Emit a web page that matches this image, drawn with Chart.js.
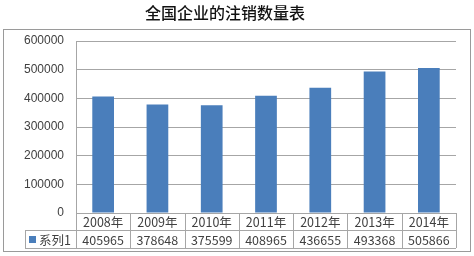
<!DOCTYPE html>
<html>
<head>
<meta charset="utf-8">
<script src="https://cdn.jsdelivr.net/npm/chart.js@4"></script>
<style>
  html, body { margin: 0; padding: 0; background: #fff; }
  #wrap { width: 474px; height: 256px; position: relative; }
</style>
</head>
<body>
<div id="wrap"><canvas id="myChart" width="474" height="256"></canvas></div>
<script>
// DATA
const titleText = "全国企业的注销数量表";
const seriesName = "系列1";
const years = ["2008年", "2009年", "2010年", "2011年", "2012年", "2013年", "2014年"];
const counts = [405965, 378648, 375599, 408965, 436655, 493368, 505866];
const yTicks = [0, 100000, 200000, 300000, 400000, 500000, 600000];

const barColor = "#4A7EBB";
const lineColor = "#a6a6a6";
const textColor = "#404040";
const cjkFont = '"Noto Sans CJK SC", "Liberation Sans", sans-serif';

// title, outer frame and the data table under the plot
const tablePlugin = {
  id: "tablePlugin",
  afterDraw(chart) {
    const c = chart.ctx;
    const area = chart.chartArea;
    const x = chart.scales.x;
    const row1 = area.bottom + 17;
    const row2 = area.bottom + 35;
    const legendLeft = 25;

    c.save();
    // frame
    c.strokeStyle = "#9a9a9a";
    c.lineWidth = 1;
    c.strokeRect(3.5, 29.5, 467, 222);

    // title
    c.fillStyle = "#111";
    c.font = "500 16px " + cjkFont;
    c.textAlign = "center";
    c.textBaseline = "middle";
    c.fillText(titleText, 225, 13);

    // table lines
    c.strokeStyle = lineColor;
    c.beginPath();
    c.moveTo(area.left, area.bottom + 0.5);
    c.lineTo(area.right, area.bottom + 0.5);
    c.moveTo(legendLeft, row1 + 0.5);
    c.lineTo(area.right, row1 + 0.5);
    c.moveTo(legendLeft, row2 + 0.5);
    c.lineTo(area.right, row2 + 0.5);
    c.moveTo(legendLeft + 0.5, row1);
    c.lineTo(legendLeft + 0.5, row2);
    const step = (area.right - area.left) / years.length;
    for (let i = 0; i <= years.length; i++) {
      const px = Math.round(area.left + step * i) + 0.5;
      c.moveTo(px, area.bottom);
      c.lineTo(px, row2);
    }
    c.stroke();

    // table text
    c.fillStyle = textColor;
    c.font = "12.5px " + cjkFont;
    years.forEach((y, i) => {
      const cx = x.getPixelForValue(i);
      c.fillText(y, cx, (area.bottom + row1) / 2 + 1);
      c.fillText(String(counts[i]), cx, (row1 + row2) / 2 + 1);
    });

    // legend key
    c.fillStyle = barColor;
    c.fillRect(29, row1 + 6, 7, 7);
    c.fillStyle = textColor;
    c.textAlign = "left";
    c.fillText(seriesName, 39, (row1 + row2) / 2 + 1);
    c.restore();
  },
};

const ctx = document.getElementById("myChart");

new Chart(ctx, {
  type: "bar",
  data: {
    labels: years,
    datasets: [
      {
        label: seriesName,
        data: counts,
        backgroundColor: barColor,
        borderWidth: 0,
        barPercentage: 0.4,
        categoryPercentage: 1,
      },
    ],
  },
  options: {
    responsive: false,
    animation: false,
    layout: { padding: { left: 0, top: 41, right: 18, bottom: 43 } },
    plugins: {
      legend: { display: false },
      tooltip: { enabled: false },
    },
    scales: {
      x: {
        display: false,
      },
      y: {
        min: yTicks[0],
        max: yTicks[yTicks.length - 1],
        afterFit: (s) => { s.width = 76; },
        afterBuildTicks: (s) => { s.ticks = yTicks.map((v) => ({ value: v })); },
        border: { color: lineColor },
        grid: { color: lineColor, drawTicks: false },
        ticks: {
          padding: 12,
          color: textColor,
          font: { family: "Liberation Sans", size: 12 },
          callback: (v) => String(v),
        },
      },
    },
  },
  plugins: [tablePlugin],
});
</script>
</body>
</html>
